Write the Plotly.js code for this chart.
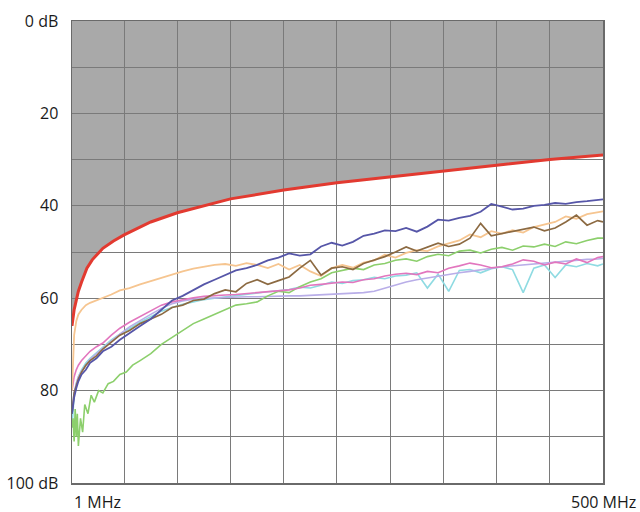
<!DOCTYPE html>
<html>
<head>
<meta charset="utf-8">
<script src="https://cdn.plot.ly/plotly-3.0.1.min.js"></script>
<style>html,body{margin:0;padding:0;background:#fff}#chart{width:640px;height:512px}</style>
</head>
<body>
<div id="chart"></div>
<script>
// ---- data (MHz, dB) ----
const limitFreq = [1,1.5,2,3,4,5,7,10,15,20,30,40,50,75,100,150,200,250,300,350,400,450,500];
const limitDb   = [66,65,64,62.5,61.5,60.5,58.5,56.5,53.5,51.7,49.2,47.6,46.3,43.5,41.5,38.5,36.6,35,33.7,32.5,31.2,30,29];

const freq = [1,2,3,5,7,10,14,18,24,30,
  38,46,55,65,75,85,95,105,115,125,
  135,145,155,165,175,185,195,205,215,225,
  235,245,255,265,275,285,295,305,315,325,
  335,345,355,365,375,385,395,405,415,425,
  435,445,455,465,475,485,495,500];

const blueDb = [85,83,81.5,79.5,78,76.5,75.5,74,73,71.5,
  70.5,69,67.5,66,64.5,62.5,60.5,59.5,58.2,57,
  56,55,54,53.5,52.8,51.8,51.2,50.3,50.8,50.5,
  48.8,48,48.6,47.8,46.5,46,45.3,45.5,44.8,45.6,
  44.5,43,43.2,42.6,42.2,41.3,39.6,40.2,40.8,40.6,
  40,39.8,39.4,39.6,39.2,39,38.7,38.6];

const brownDb = [85,82.5,80.5,79,77.5,76,74.5,73.5,72.5,71,
  69.5,68,67,65.5,64.5,63.5,62,61.5,60.5,60.2,
  59,58.2,58.6,56.8,56,57,56.2,55.4,53.5,51.8,
  55,53.5,53.2,53.8,52.5,51.7,51,50,48.9,49.8,
  49,48.1,48.8,48.3,47,43.8,46.5,46,45.5,45,
  44.6,45.4,44.8,43.5,42,44.2,43.2,43.5];

const orangeDb = [80,72,68,65,63.5,62.5,61.5,61,60.5,60,
  59.2,58.3,57.8,57,56.3,55.5,54.8,54.2,53.6,53.2,
  52.8,52.6,53,52.4,52.8,53.5,52.6,53.8,52.8,54.2,
  55.2,53.5,52.8,53.4,52.3,51.8,50.6,51.2,50.2,49.6,
  49.8,48.8,48.2,47.5,46.2,46.8,45.5,46,45.3,45.8,
  44.6,44,43.5,42.3,42.8,41.8,41.5,41.2];

const pinkDb = [80,78.5,77,75.5,74.5,73.5,72.5,71.5,70.5,69.7,
  68,66.5,65.2,64,62.8,61.5,60.8,60.3,59.9,59.6,
  59.4,59.3,59.2,59,58.8,58.7,58.5,58.2,57.8,57.2,
  57,56.8,56.5,56.6,56,55.8,55.2,54.8,54.6,54.9,
  54.2,54.5,53.5,53,52.4,52.8,53.4,53.2,52.6,51.7,
  52,52.8,52.2,52.6,51.5,52.3,51.2,51];

const cyanDb = [88,84,81,78.5,77,75.5,74,73,71.8,70.5,
  69,67.8,66.5,65.2,64,62.8,62,61.3,60.8,60.3,
  60,59.7,59.4,59.1,58.9,58.6,58.4,58.1,57.6,57.8,
  57.2,56.5,56.8,56.2,56,55.5,55.8,55.2,55,54.5,
  57.8,54.8,58.5,54,53.8,54.5,53.6,53.2,53.8,58.8,
  53.5,52.8,55.5,52.8,53.2,52.5,53,52.6];

const lavenderDb = [84,82,80.5,78.5,77,75.8,74.5,73.2,72,70.8,
  69.2,67.8,66.2,64.8,63.5,62.2,61.2,60.6,60.2,60,
  59.9,59.8,59.8,59.7,59.7,59.6,59.6,59.5,59.5,59.4,
  59.3,59.2,59.1,59,58.8,58.5,57.8,57.2,56.5,56,
  55.6,55.2,54.8,54.5,54.2,53.8,53.5,53.2,53,52.7,
  52.5,52.3,52.1,52,51.8,51.6,51.5,51.4];

const greenFreq = [1,2,3,4,5,6,7,9,11,13,16,19,22,26,30,35,40,46,52,58,65,75,85,95,
  105,115,125,135,145,155,165,175,185,195,205,215,225,235,245,255,265,275,285,295,
  305,315,325,335,345,355,365,375,385,395,405,415,425,435,445,455,465,475,485,495,500];
const greenDb = [88,86,91,84,90,85,92,86,89,83,85,81,82.5,80,80.5,78.5,78,76.5,76,74.5,73.5,72,70,68.5,
  67,65.5,64.5,63.5,62.5,61.5,61.2,60.8,59.5,58.5,58.8,57.5,56.5,55.8,54.5,54,53.5,53.8,52.8,52.5,
  51.8,51.5,52,51,50.5,50.8,49.8,49.6,50.2,49.4,49,49.6,48.7,48.9,48.3,48.8,47.8,48.2,47.5,47,47];

const yTickVals = [0,10,20,30,40,50,60,70,80,90,100];
const yTickText = ['0 dB','','20','','40','','60','','80','','100 dB'];
const xLabels = ['1 MHz','500 MHz'];
const xLabelPos = [1,500];

// ---- traces ----
function line(x, y, color, width) {
  return {x: x, y: y, type: 'scatter', mode: 'lines', hoverinfo: 'skip',
          line: {color: color, width: width}};
}
const traces = [
  line(freq, cyanDb, '#8fdbe2', 1.6),
  line(freq, lavenderDb, '#b9aee8', 1.6),
  line(greenFreq, greenDb, '#8ccf6c', 1.6),
  line(freq, pinkDb, '#e276be', 1.6),
  line(freq, orangeDb, '#f6c590', 1.8),
  line(freq, brownDb, '#8c6a42', 1.7),
  line(freq, blueDb, '#5656a8', 1.8),
  line(limitFreq, limitDb, '#e23a30', 3)
];

// gray region above the limit line
let path = 'M' + limitFreq[0] + ',0';
for (let i = 0; i < limitFreq.length; i++) path += ' L' + limitFreq[i] + ',' + limitDb[i];
path += ' L' + limitFreq[limitFreq.length - 1] + ',0 Z';

const font = {family: 'Open Sans, sans-serif', size: 16, color: '#1a1a1a'};

const layout = {
  width: 640, height: 512,
  margin: {l: 72, r: 37, t: 21, b: 29},
  paper_bgcolor: '#ffffff', plot_bgcolor: '#ffffff',
  showlegend: false,
  font: font,
  xaxis: {range: [1, 500], tick0: 0, dtick: 50, showticklabels: false, ticks: '',
          showgrid: true, gridcolor: '#7a7a7a', gridwidth: 1, zeroline: false,
          showline: true, linecolor: '#6a6a6a', linewidth: 1.5, mirror: true},
  yaxis: {range: [100, 0], tickmode: 'array', tickvals: yTickVals, ticktext: yTickText,
          ticks: '', ticklabelstandoff: 9, tickfont: font,
          showgrid: true, gridcolor: '#7a7a7a', gridwidth: 1, zeroline: false,
          showline: true, linecolor: '#6a6a6a', linewidth: 1.5, mirror: true},
  shapes: [{type: 'path', path: path, xref: 'x', yref: 'y', layer: 'below',
            fillcolor: '#a9a9a9', line: {width: 0}}],
  annotations: xLabels.map((t, i) => ({
    text: t, x: xLabelPos[i], xref: 'x', y: 0, yref: 'paper',
    xanchor: i === 0 ? 'left' : 'center', yanchor: 'top', yshift: -6,
    showarrow: false, font: font
  }))
};

Plotly.newPlot('chart', traces, layout, {displayModeBar: false, staticPlot: true});
</script>
</body>
</html>
